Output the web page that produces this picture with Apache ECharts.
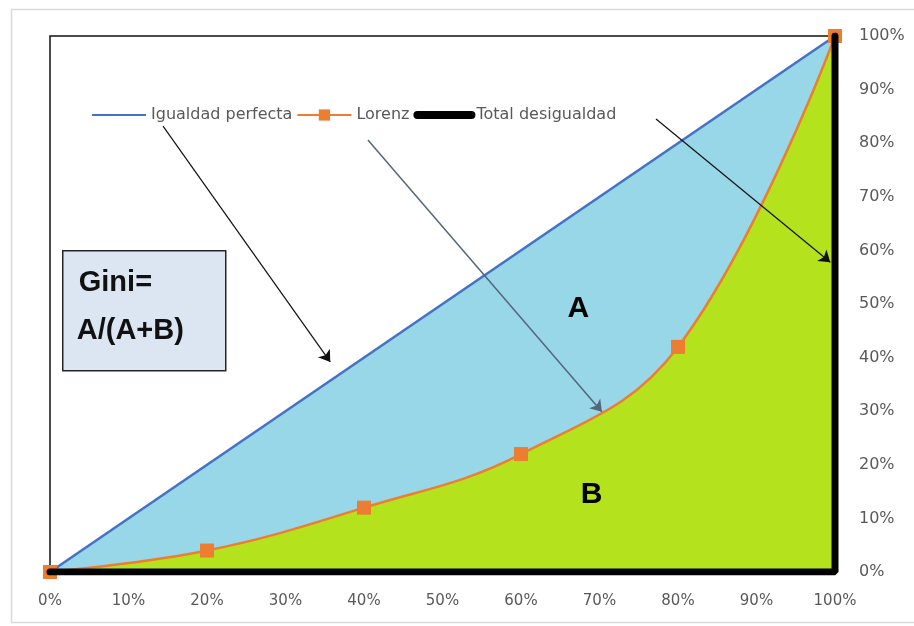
<!DOCTYPE html>
<html>
<head>
<meta charset="utf-8">
<script src="https://cdn.jsdelivr.net/npm/echarts@6/dist/echarts.min.js"></script>
<style>
  html, body { margin: 0; padding: 0; background: #fff; }
  #chart { width: 914px; height: 626px; }
</style>
</head>
<body>
<div id="chart"></div>
<script>
// población acumulada (%) y renta acumulada (%)
var poblacion = [0, 20, 40, 60, 80, 100];
var lorenz = [0, 4, 12, 22, 42, 100];
var igualdad = [[0, 0], [100, 100]];
var totalDesigualdad = [[0, 0], [100, 0], [100, 100]];

// flechas de anotación: [inicio, fin] en unidades de datos
var flechasNegras = [
  [[14.4, 83.2], [35.7, 39.2]],
  [[77.2, 84.5], [99.4, 57.8]]
];
var flechaGris = [[40.5, 80.6], [70.3, 29.9]];
var etiquetaA = [67.3, 49.1];
var etiquetaB = [69.0, 14.4];

var chart = echarts.init(document.getElementById("chart"));

var lorenzData = poblacion.map(function (x, i) {
  return [x, lorenz[i]];
});

var labelColor = "#595959";
var fontFam = "'DejaVu Sans', sans-serif";

var option = {
  animation: false,
  backgroundColor: "#fff",
  grid: {
    left: 50,
    top: 36,
    right: 79,
    bottom: 54,
    show: true,
    borderColor: "#111",
    borderWidth: 1.5,
    backgroundColor: "transparent"
  },
  legend: {
    left: 86,
    top: 102,
    itemWidth: 54,
    itemHeight: 14,
    itemGap: 4,
    textStyle: { color: labelColor, fontSize: 16, fontFamily: fontFam },
    data: [
      { name: "Igualdad perfecta", itemStyle: { opacity: 0 } },
      { name: "Lorenz" },
      {
        name: "Total desigualdad",
        itemStyle: { opacity: 0 },
        lineStyle: { width: 8, cap: "round", color: "#000" }
      }
    ]
  },
  xAxis: {
    type: "value",
    min: 0,
    max: 100,
    interval: 10,
    axisLine: { show: false },
    axisTick: { show: false },
    splitLine: { show: false },
    axisLabel: {
      color: labelColor,
      fontSize: 15,
      fontFamily: fontFam,
      margin: 22,
      formatter: "{value}%"
    }
  },
  yAxis: {
    type: "value",
    position: "right",
    min: 0,
    max: 100,
    interval: 10,
    axisLine: { show: false },
    axisTick: { show: false },
    splitLine: { show: false },
    axisLabel: {
      color: labelColor,
      fontSize: 16,
      fontFamily: fontFam,
      margin: 24,
      formatter: "{value}%"
    }
  },
  series: [
    {
      name: "Igualdad perfecta",
      type: "line",
      data: igualdad,
      symbol: "none",
      z: 3,
      lineStyle: { color: "#4472C4", width: 2.5 },
      itemStyle: { color: "#4472C4" },
      areaStyle: { color: "#97D7E8", opacity: 1 }
    },
    {
      name: "Lorenz",
      type: "line",
      data: lorenzData,
      smooth: 0.4,
      symbol: "rect",
      symbolSize: 14,
      showAllSymbol: true,
      z: 5,
      lineStyle: { color: "#ED7D31", width: 2.5 },
      itemStyle: { color: "#ED7D31" },
      areaStyle: { color: "#B4E31E", opacity: 1 }
    },
    {
      name: "Total desigualdad",
      type: "line",
      data: totalDesigualdad,
      symbol: "none",
      z: 6,
      lineStyle: { color: "#000", width: 7, cap: "round" },
      itemStyle: { color: "#000" }
    },
    {
      name: "flechas",
      type: "lines",
      coordinateSystem: "cartesian2d",
      z: 20,
      silent: true,
      symbol: ["none", "arrow"],
      symbolSize: 11,
      lineStyle: { color: "#111", width: 1.2, opacity: 1 },
      data: flechasNegras.map(function (f) {
        return { coords: f };
      }).concat([{
        coords: flechaGris,
        lineStyle: { color: "#56657A", width: 1.5 }
      }])
    },
    {
      name: "etiquetas",
      type: "scatter",
      z: 20,
      silent: true,
      symbolSize: 1,
      itemStyle: { opacity: 0 },
      data: [
        { value: etiquetaA, name: "A" },
        { value: etiquetaB, name: "B" }
      ],
      label: {
        show: true,
        position: "inside",
        formatter: "{b}",
        color: "#000",
        opacity: 1,
        fontSize: 30,
        fontWeight: "bold",
        fontFamily: "'Liberation Sans', sans-serif"
      }
    }
  ],
  graphic: [
    {
      type: "rect",
      left: 9,
      top: 7,
      shape: { width: 920, height: 613 },
      style: { fill: "none", stroke: "#d9d9d9", lineWidth: 1.5 },
      silent: true,
      z: -1
    },
    {
      type: "group",
      left: 62,
      top: 250,
      z: 100,
      children: [
        {
          type: "rect",
          shape: { x: 0, y: 0, width: 163, height: 120 },
          style: { fill: "#DCE6F2", stroke: "#262626", lineWidth: 1.5 }
        },
        {
          type: "text",
          x: 16,
          y: 18,
          style: {
            text: "Gini=",
            fill: "#111",
            font: "bold 29px 'Liberation Sans', sans-serif"
          }
        },
        {
          type: "text",
          x: 14,
          y: 66,
          style: {
            text: "A/(A+B)",
            fill: "#111",
            font: "bold 29px 'Liberation Sans', sans-serif"
          }
        }
      ]
    }
  ]
};

chart.setOption(option);
</script>
</body>
</html>
